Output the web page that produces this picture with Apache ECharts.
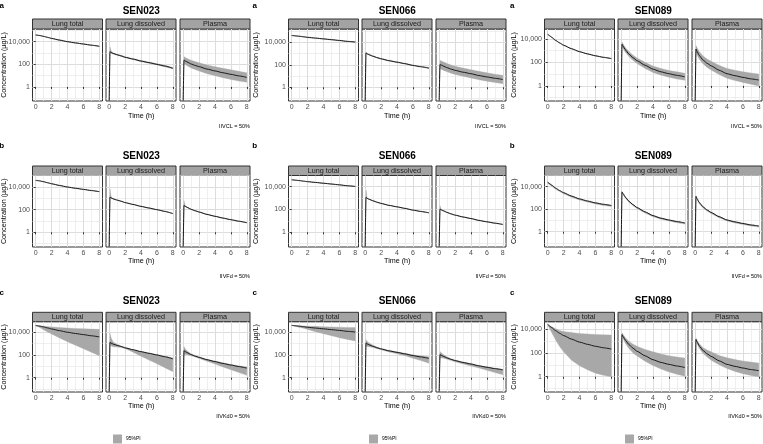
<!DOCTYPE html>
<html><head><meta charset="utf-8">
<script src="https://cdn.jsdelivr.net/npm/echarts@6/dist/echarts.min.js"></script>
<style>html,body{margin:0;padding:0;background:#fff}#c{width:763px;height:444px}</style>
</head><body><div id="c"></div>
<script>
// ---------- DATA ----------
const times = [0, 0.1, 0.25, 0.5, 1, 1.5, 2, 3, 4, 5, 6, 7, 8];
const compounds = ['SEN023', 'SEN066', 'SEN089'];
const compartments = ['Lung total', 'Lung dissolved', 'Plasma'];
const rowTags = ['a', 'b', 'c'];
const rowCaptions = ['IIVCL = 50%', 'IIVFd = 50%', 'IIVKd0 = 50%'];
const legendLabel = '95%PI';
const xTitle = 'Time (h)';
const yTitle = 'Concentration (\u00b5g/L)';
const xTicks = [0, 2, 4, 6, 8];
const xMinor = [1, 3, 5, 7];
const yTicks = [1, 100, 10000];
const yTickLabels = ['1', '100', '10,000'];
const yMinor = [0.1, 10, 1000, 100000];

// medians (µg/L); 0 = nothing yet at dosing time
const sen023Total = [39000, 38000, 37000, 35000, 29500, 24000, 19500, 13800, 10000, 7800, 6200, 4900, 3900];
const sen023Dissolved = [0, 1300, 1100, 900, 700, 560, 420, 290, 195, 140, 100, 70, 45];
const sen023Plasma = [0, 240, 200, 160, 107, 80, 62, 38, 26, 18, 13, 9.5, 7];
const sen066Total = [40000, 39500, 38500, 37000, 34000, 30500, 27500, 23500, 20000, 17000, 14500, 12000, 10500];
const sen066Dissolved = [0, 1150, 950, 780, 570, 430, 340, 230, 170, 125, 88, 67, 51];
const sen066Plasma = [0, 107, 95, 78, 55, 41, 32, 22, 16, 11, 8.3, 6.3, 4.9];
const sen089Total = [25000, 22400, 18600, 14000, 7600, 4600, 2950, 1480, 830, 540, 370, 275, 215];
const sen089Dissolved = [0, 3500, 2400, 1250, 500, 250, 140, 58, 27, 16, 11, 8, 6];
const sen089Plasma = [0, 1400, 850, 400, 160, 85, 52, 22, 11, 7.5, 5.4, 4, 3.2];

// 95% PI bands — row a (IIVCL)
const clSen023TotalLo = [37000, 36000, 35000, 33000, 28000, 23000, 18500, 13000, 9500, 7400, 5900, 4600, 3700];
const clSen023TotalHi = [41000, 40000, 39000, 37000, 31000, 25000, 20500, 14500, 10500, 8200, 6500, 5200, 4100];
const clSen023DissLo = [0, 1100, 950, 800, 630, 500, 380, 260, 170, 122, 86, 60, 38];
const clSen023DissHi = [0, 3600, 1500, 1050, 780, 620, 470, 325, 220, 160, 115, 82, 53];
const clSen023PlasLo = [0, 120, 95, 75, 48, 35, 26, 15, 10, 6.5, 4.6, 3.3, 2.6];
const clSen023PlasHi = [0, 480, 400, 330, 230, 175, 140, 88, 62, 44, 33, 24, 18];
const clSen066TotalLo = [38000, 37500, 36500, 35000, 32500, 29000, 26000, 22500, 19000, 16000, 13800, 11400, 10000];
const clSen066TotalHi = [42000, 41500, 40500, 39000, 35500, 32000, 29000, 24500, 21000, 18000, 15200, 12600, 11000];
const clSen066DissLo = [0, 1050, 880, 720, 530, 400, 315, 213, 157, 115, 81, 62, 47];
const clSen066DissHi = [0, 1250, 1020, 840, 615, 465, 367, 248, 183, 135, 95, 72, 55];
const clSen066PlasLo = [0, 46, 41, 33, 23.5, 17.5, 13.7, 9.4, 6.8, 4.7, 3.5, 2.7, 2.1];
const clSen066PlasHi = [0, 250, 222, 182, 129, 96, 75, 51, 37, 26, 19.4, 14.7, 11.5];
const clSen089TotalLo = [23800, 21300, 17700, 13300, 7200, 4370, 2800, 1400, 790, 513, 352, 261, 204];
const clSen089TotalHi = [26300, 23500, 19500, 14700, 8000, 4830, 3100, 1550, 870, 567, 388, 289, 226];
const clSen089DissLo = [0, 2200, 1500, 780, 300, 145, 80, 31, 14, 8.2, 5.6, 4.0, 3.0];
const clSen089DissHi = [0, 5500, 3800, 2000, 820, 420, 240, 105, 50, 31, 21, 16, 12];
const clSen089PlasLo = [0, 700, 420, 195, 75, 38, 23, 9.5, 4.5, 2.9, 2.0, 1.4, 1.0];
const clSen089PlasHi = [0, 2800, 1750, 850, 360, 200, 128, 58, 31, 22, 16.5, 12.7, 10.5];

// row b (IIVFd)
const fdSen023TotalLo = [37500, 36500, 35500, 33500, 28500, 23000, 18800, 13300, 9600, 7500, 5950, 4700, 3750];
const fdSen023TotalHi = [40500, 39500, 38500, 36500, 30500, 25000, 20200, 14300, 10400, 8100, 6450, 5100, 4050];
const fdSen023DissLo = [0, 1150, 1020, 850, 670, 540, 405, 280, 188, 135, 96, 67, 43];
const fdSen023DissHi = [0, 7000, 1300, 960, 730, 580, 435, 300, 202, 145, 104, 73, 47];
const fdSen023PlasLo = [0, 215, 185, 150, 101, 76, 59, 36, 24.5, 17, 12.3, 9, 6.6];
const fdSen023PlasHi = [0, 630, 220, 170, 113, 84, 65, 40, 27.5, 19, 13.7, 10, 7.4];
const fdSen066TotalLo = [38500, 38000, 37000, 35500, 32700, 29300, 26400, 22600, 19200, 16300, 13900, 11500, 10100];
const fdSen066TotalHi = [41500, 41000, 40000, 38500, 35300, 31700, 28600, 24400, 20800, 17700, 15100, 12500, 10900];
const fdSen066DissLo = [0, 1080, 900, 740, 540, 410, 323, 219, 162, 119, 84, 64, 48.5];
const fdSen066DissHi = [0, 5000, 1000, 820, 600, 450, 357, 241, 178, 131, 92, 70, 53.5];
const fdSen066PlasLo = [0, 100, 90, 74, 52, 39, 30.5, 21, 15.2, 10.5, 7.9, 6.0, 4.65];
const fdSen066PlasHi = [0, 220, 100, 82, 58, 43, 33.5, 23, 16.8, 11.5, 8.7, 6.6, 5.15];
const fdSen089TotalLo = [20000, 17900, 14900, 11200, 6100, 3700, 2360, 1180, 660, 430, 295, 220, 172];
const fdSen089TotalHi = [25500, 22800, 19000, 14300, 7750, 4700, 3000, 1510, 850, 550, 377, 280, 219];
const fdSen089DissLo = [0, 2800, 1920, 1000, 400, 200, 112, 46, 21.6, 12.8, 8.8, 6.4, 4.8];
const fdSen089DissHi = [0, 3600, 2470, 1290, 515, 258, 144, 60, 27.8, 16.5, 11.3, 8.2, 6.2];
const fdSen089PlasLo = [0, 1120, 680, 320, 128, 68, 42, 17.6, 8.8, 6.0, 4.3, 3.2, 2.56];
const fdSen089PlasHi = [0, 1440, 875, 412, 165, 88, 54, 22.7, 11.3, 7.7, 5.6, 4.1, 3.3];

// row c (IIVKd0)
const kdSen023TotalLo = [39000, 35500, 31600, 25700, 16600, 10700, 7100, 3160, 1480, 710, 355, 178, 87];
const kdSen023TotalHi = [39000, 39000, 38000, 37000, 34700, 31600, 29500, 26300, 23400, 21900, 20400, 19100, 18200];
const kdSen023DissLo = [0, 800, 630, 525, 500, 447, 372, 178, 79, 36, 16.6, 7.6, 3.4];
const kdSen023DissHi = [0, 8100, 3160, 1410, 890, 630, 470, 300, 210, 150, 112, 79, 56];
const kdSen023PlasLo = [0, 100, 112, 105, 85, 66, 50, 28, 15.8, 8.9, 5.0, 2.8, 1.6];
const kdSen023PlasHi = [0, 550, 355, 224, 126, 89, 68, 42, 29, 20.4, 14.8, 11.2, 8.9];
const kdSen066TotalLo = [40000, 38000, 35500, 31600, 26900, 22400, 17800, 11200, 7400, 5000, 3300, 2340, 1740];
const kdSen066TotalHi = [40000, 40000, 40000, 39000, 37000, 36300, 34700, 33100, 30900, 29500, 28200, 26900, 25700];
const kdSen066DissLo = [0, 560, 560, 525, 447, 355, 282, 186, 126, 85, 52, 32, 19];
const kdSen066DissHi = [0, 2240, 1580, 1120, 710, 500, 380, 257, 190, 141, 105, 85, 71];
const kdSen066PlasLo = [0, 50, 56, 52, 42, 32, 25, 15.8, 10.5, 7.1, 4.5, 2.8, 1.8];
const kdSen066PlasHi = [0, 200, 158, 112, 66, 47, 35.5, 24, 17.4, 12, 9.1, 6.9, 5.6];
const kdSen089TotalLo = [25000, 17800, 11200, 5250, 1260, 355, 126, 25, 8.3, 3.8, 2.0, 1.32, 1.0];
const kdSen089TotalHi = [25000, 24000, 20900, 16600, 11200, 7900, 6600, 5250, 4470, 3980, 3720, 3470, 3310];
const kdSen089DissLo = [0, 2800, 1580, 710, 224, 100, 56, 20, 8.9, 4.5, 2.5, 1.6, 1.1];
const kdSen089DissHi = [0, 5000, 3550, 2000, 955, 560, 370, 200, 126, 83, 60, 47, 37];
const kdSen089PlasLo = [0, 1120, 630, 250, 89, 45, 25, 10, 5.0, 2.8, 1.8, 1.26, 1.0];
const kdSen089PlasHi = [0, 1780, 1120, 630, 280, 178, 126, 63, 40, 28, 21, 17, 14];

// ---------- assembly ----------
const medians = [
  [sen023Total, sen023Dissolved, sen023Plasma],
  [sen066Total, sen066Dissolved, sen066Plasma],
  [sen089Total, sen089Dissolved, sen089Plasma]
];
const bands = [
  [[[clSen023TotalLo, clSen023TotalHi], [clSen023DissLo, clSen023DissHi], [clSen023PlasLo, clSen023PlasHi]],
   [[clSen066TotalLo, clSen066TotalHi], [clSen066DissLo, clSen066DissHi], [clSen066PlasLo, clSen066PlasHi]],
   [[clSen089TotalLo, clSen089TotalHi], [clSen089DissLo, clSen089DissHi], [clSen089PlasLo, clSen089PlasHi]]],
  [[[fdSen023TotalLo, fdSen023TotalHi], [fdSen023DissLo, fdSen023DissHi], [fdSen023PlasLo, fdSen023PlasHi]],
   [[fdSen066TotalLo, fdSen066TotalHi], [fdSen066DissLo, fdSen066DissHi], [fdSen066PlasLo, fdSen066PlasHi]],
   [[fdSen089TotalLo, fdSen089TotalHi], [fdSen089DissLo, fdSen089DissHi], [fdSen089PlasLo, fdSen089PlasHi]]],
  [[[kdSen023TotalLo, kdSen023TotalHi], [kdSen023DissLo, kdSen023DissHi], [kdSen023PlasLo, kdSen023PlasHi]],
   [[kdSen066TotalLo, kdSen066TotalHi], [kdSen066DissLo, kdSen066DissHi], [kdSen066PlasLo, kdSen066PlasHi]],
   [[kdSen089TotalLo, kdSen089TotalHi], [kdSen089DissLo, kdSen089DissHi], [kdSen089PlasLo, kdSen089PlasHi]]]
];

// ---------- layout ----------
const FONT = '"Liberation Sans", Arial, sans-serif';
const colX = [0, 256, 512];
const facetLeft = [32.5, 106, 180];
const facetW = 70;
const tagX = [1.7, 254.7, 512.3];
const yTitleX = [4.5, 256.5, 514];
const rowGeom = [
  {tag: 5.5, title: 11.7, stripTop: 19, plotTop: 29, plotBottom: 101, xtitle: 116, caption: 126},
  {tag: 145.5, title: 156.7, stripTop: 166, plotTop: 175.5, plotBottom: 247, xtitle: 261, caption: 276.7},
  {tag: 292.3, title: 301.7, stripTop: 312.3, plotTop: 321.7, plotBottom: 392, xtitle: 406, caption: 416}
];
const yRange = [
  [[-1.24, 5.12], [-1.22, 5.18], [-1.28, 4.85]],
  [[-1.30, 5.02], [-1.29, 4.98], [-1.36, 5.00]],
  [[-1.26, 4.93], [-1.26, 4.93], [-1.29, 4.64]]
];
const BAND = '#A8A8A8';
const STRIP = '#A3A3A3';

// zero concentration (log = -Inf) is drawn at the panel's lower edge, as ggplot does
const lgAt = (v, ymin) => (v > 0 ? Math.max(Math.log10(v), ymin) : ymin);
const yLabel = v => {
  const i = yTicks.findIndex(t => Math.abs(Math.log10(t) - v) < 1e-6);
  return i >= 0 ? yTickLabels[i] : '';
};

function bandSeries(gi, lo, hi, ymin) {
  const rows = times.map((t, i) => [t, lgAt(lo[i], ymin), lgAt(hi[i], ymin)]);
  return {
    type: 'custom', xAxisIndex: 2 * gi, yAxisIndex: 2 * gi, silent: true, z: 3,
    data: rows, encode: {x: 0, y: [1, 2]},
    renderItem: (params, api) => {
      if (params.dataIndex !== 0) return null;
      const upper = rows.map(d => api.coord([d[0], d[2]]));
      const lower = rows.map(d => api.coord([d[0], d[1]])).reverse();
      return {type: 'polygon', shape: {points: upper.concat(lower)}, style: {fill: BAND, stroke: BAND, lineWidth: 0.3}};
    }
  };
}

const grids = [], xAxes = [], yAxes = [], series = [], graphics = [];
let gi = 0;
for (let r = 0; r < 3; r++) {
  const R = rowGeom[r];
  for (let c = 0; c < 3; c++) {
    const ox = colX[c];
    const [ymin, ymax] = yRange[r][c];
    const cx = ox + (facetLeft[0] + facetLeft[2] + facetW) / 2;
    graphics.push({type: 'text', x: tagX[c], y: R.tag, style: {text: rowTags[r], font: 'bold 8px ' + FONT, fill: '#000', textAlign: 'center', textVerticalAlign: 'middle'}});
    graphics.push({type: 'text', x: cx, y: R.title, style: {text: compounds[c], font: 'bold 10px ' + FONT, fill: '#000', textAlign: 'center', textVerticalAlign: 'middle'}});
    graphics.push({type: 'text', x: yTitleX[c], y: (R.plotTop + R.plotBottom) / 2, rotation: Math.PI / 2, style: {text: yTitle, font: '7.2px ' + FONT, fill: '#000', textAlign: 'center', textVerticalAlign: 'middle'}});
    graphics.push({type: 'text', x: cx, y: R.xtitle, style: {text: xTitle, font: '7.2px ' + FONT, fill: '#000', textAlign: 'center', textVerticalAlign: 'middle'}});
    graphics.push({type: 'text', x: ox + facetLeft[2] + facetW, y: R.caption, style: {text: rowCaptions[r], font: '5.5px ' + FONT, fill: '#000', textAlign: 'right', textVerticalAlign: 'middle'}});
    if (r === 2) {
      graphics.push({type: 'rect', shape: {x: ox + 113, y: 434.5, width: 9, height: 9}, style: {fill: BAND}});
      graphics.push({type: 'text', x: ox + 126, y: 439, style: {text: legendLabel, font: '5px ' + FONT, fill: '#000', textAlign: 'left', textVerticalAlign: 'middle'}});
    }
    for (let f = 0; f < 3; f++) {
      const left = ox + facetLeft[f];
      const h = R.plotBottom - R.plotTop;
      grids.push({left: left, top: R.plotTop, width: facetW, height: h, show: true, borderColor: '#333', borderWidth: 1, backgroundColor: 'transparent', outerBoundsMode: 'none'});
      graphics.push({type: 'rect', shape: {x: left, y: R.stripTop, width: facetW, height: R.plotTop - R.stripTop}, style: {fill: STRIP, stroke: '#333', lineWidth: 1}});
      graphics.push({type: 'text', x: left + facetW / 2, y: (R.stripTop + R.plotTop) / 2 + 0.3, style: {text: compartments[f], font: '7.2px ' + FONT, fill: '#1A1A1A', textAlign: 'center', textVerticalAlign: 'middle'}});
      xAxes.push({gridIndex: gi, type: 'value', min: -0.4, max: 8.4, position: 'bottom',
        axisLine: {show: false},
        axisTick: {show: true, length: 2, lineStyle: {color: '#333', width: 1}, customValues: xTicks},
        axisLabel: {show: true, customValues: xTicks, fontSize: 7, fontFamily: FONT, color: '#4D4D4D', margin: 2.5},
        splitLine: {show: true, lineStyle: {color: '#DCDCDC', width: 1}}});
      xAxes.push({gridIndex: gi, type: 'value', min: -0.4, max: 8.4, position: 'top',
        axisLine: {show: false}, axisTick: {show: false, customValues: xMinor}, axisLabel: {show: false},
        splitLine: {show: true, lineStyle: {color: '#E8E8E8', width: 0.7}}});
      yAxes.push({gridIndex: gi, type: 'value', min: ymin, max: ymax, position: 'left',
        axisLine: {show: false},
        axisTick: {show: f === 0, length: 2, lineStyle: {color: '#333', width: 1}, customValues: yTicks.map(Math.log10)},
        axisLabel: {show: f === 0, customValues: yTicks.map(Math.log10), formatter: yLabel, fontSize: 7, fontFamily: FONT, color: '#4D4D4D', margin: 2.5},
        splitLine: {show: true, lineStyle: {color: '#DCDCDC', width: 1}}});
      yAxes.push({gridIndex: gi, type: 'value', min: ymin, max: ymax, position: 'right',
        axisLine: {show: false}, axisTick: {show: false, customValues: yMinor.map(Math.log10)}, axisLabel: {show: false},
        splitLine: {show: true, lineStyle: {color: '#E8E8E8', width: 0.7}}});
      const [lo, hi] = bands[r][c][f];
      const med = medians[c][f];
      series.push(bandSeries(gi, lo, hi, ymin));
      series.push({type: 'line', xAxisIndex: 2 * gi, yAxisIndex: 2 * gi,
        data: times.map((t, i) => [t, lgAt(med[i], ymin)]), symbol: 'none', silent: true, clip: true,
        smooth: 0.2, smoothMonotone: 'x',
        lineStyle: {color: '#1A1A1A', width: 1}, z: 4});
      gi++;
    }
  }
}

const chart = echarts.init(document.getElementById('c'), null, {renderer: 'canvas'});
chart.setOption({
  animation: false,
  backgroundColor: '#fff',
  grid: grids,
  xAxis: xAxes,
  yAxis: yAxes,
  series: series,
  graphic: {elements: graphics}
});
</script>
</body></html>
